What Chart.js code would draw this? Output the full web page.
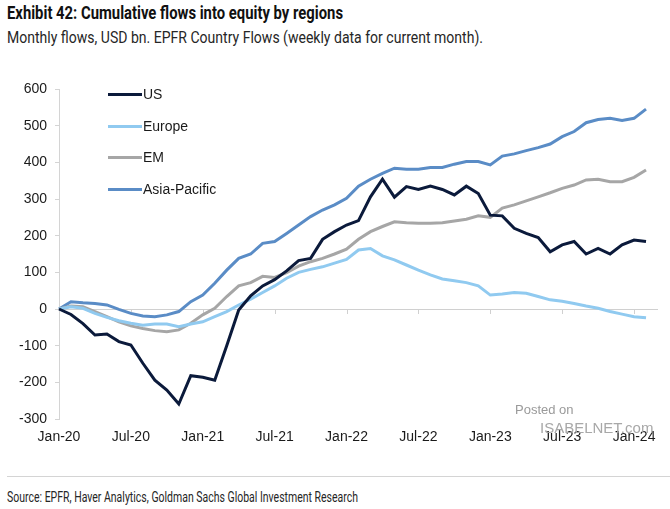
<!DOCTYPE html>
<html>
<head>
<meta charset="utf-8">
<script src="https://cdn.jsdelivr.net/npm/chart.js@4.4.0/dist/chart.umd.min.js"></script>
<style>
  body { margin: 0; background: #fff; }
  #page { position: relative; width: 670px; height: 509px; overflow: hidden; background: #fff; font-family: "Liberation Sans", Arial, sans-serif; }
  .fit { position: absolute; left: 7px; white-space: nowrap; transform-origin: left center; color: #1a1a1a; font-family: "Liberation Sans Narrow", "Roboto", "Liberation Sans", sans-serif; }
  #title { top: 2px; font-size: 19px; font-weight: bold; line-height: 22px; color: #111; }
  #subtitle { top: 27px; font-size: 17px; line-height: 20px; color: #262626; }
  #source { top: 488px; font-size: 15px; line-height: 18px; color: #262626; }
  #sep { position: absolute; left: 7px; right: 0; top: 476px; height: 1px; background: #d4d4d4; }
  #wrap { position: absolute; left: 0; top: 60px; width: 670px; height: 410px; }
  #legend { position: absolute; left: 108px; top: 85px; width: 200px; font-size: 14px; color: #1a1a1a; }
  .item { position: relative; height: 31.5px; line-height: 18px; white-space: nowrap; }
  .item span.ln { position: absolute; left: 0; top: 8px; width: 34px; height: 3px; }
  .item span.tx { position: absolute; left: 35px; top: 0; white-space: nowrap; }
  .wm { position: absolute; color: #9a9a9a; font-family: Arial, "Liberation Sans", sans-serif; white-space: nowrap; }
</style>
</head>
<body>
<div id="page">
  <div id="title" class="fit" data-w="336">Exhibit 42: Cumulative flows into equity by regions</div>
  <div id="subtitle" class="fit" data-w="476">Monthly flows, USD bn. EPFR Country Flows (weekly data for current month).</div>
  <div id="wrap"><canvas id="chart"></canvas></div>
  <div id="legend"></div>
  <div class="wm" style="left:515px; top:402px; font-size:13px;">Posted on</div>
  <div class="wm" style="left:540px; top:419px; font-size:15px; color:#a8a8a8;">ISABELNET.com</div>
  <div id="sep"></div>
  <div id="source" class="fit" data-w="351">Source: EPFR, Haver Analytics, Goldman Sachs Global Investment Research</div>
</div>
<script>
// Données (lecture du graphique, Md USD cumulés, mensuel Jan-20 -> Feb-24)
const moisNoms = ['Jan','Feb','Mar','Apr','May','Jun','Jul','Aug','Sep','Oct','Nov','Dec'];
const months = [];
for (let i = 0; i < 51; i++) {
    months.push(moisNoms[i % 12] + '-' + (20 + Math.floor(i / 12)));
}
const tickLabels = ['Jan-20','Jul-20','Jan-21','Jul-21','Jan-22','Jul-22','Jan-23','Jul-23','Jan-24'];

const us = [0,-15,-40,-71,-68,-89,-98,-148,-194,-221,-259,-182,-186,-194,-100,-3,36,63,80,104,132,138,190,211,229,241,306,354,305,334,326,335,326,311,335,315,256,254,220,206,195,156,175,184,150,165,150,175,188,184];
const europe = [0,6,2,-12,-23,-32,-39,-44,-41,-41,-48,-41,-35,-21,-7,11,27,45,63,84,100,108,115,125,135,161,165,145,134,120,106,93,82,77,72,63,38,41,45,43,34,25,21,15,8,2,-7,-14,-21,-24];
const em = [0,8,6,-7,-21,-35,-46,-53,-59,-62,-57,-39,-16,2,34,63,72,89,86,99,117,129,138,150,163,190,211,225,238,235,234,234,235,240,245,254,250,275,284,295,306,317,329,338,352,354,347,347,359,379];
const asia = [0,20,17,15,11,-1,-12,-19,-21,-16,-7,20,38,70,106,138,150,179,184,206,229,252,270,284,302,335,354,370,384,381,381,386,386,395,402,402,393,417,423,432,440,450,470,484,508,517,520,514,520,545];

const yTicks = { min: -300, max: 600, step: 100 };

const series = [
    { label: 'US', data: us, color: '#0b1a3b' },
    { label: 'Europe', data: europe, color: '#90caf0' },
    { label: 'EM', data: em, color: '#a6a6a6' },
    { label: 'Asia-Pacific', data: asia, color: '#5a8cc6' }
];

// ajustement largeur des textes
document.querySelectorAll('.fit').forEach((el) => {
    const w = el.getBoundingClientRect().width;
    el.style.transform = 'scaleX(' + (parseFloat(el.dataset.w) / w) + ')';
});

// légende
const legend = document.getElementById('legend');
series.forEach((s) => {
    const item = document.createElement('div');
    item.className = 'item';
    item.innerHTML = '<span class="ln" style="background:' + s.color + '"></span><span class="tx">' + s.label + '</span>';
    legend.appendChild(item);
});

// petites graduations sous la ligne zéro
const zeroTicks = {
    id: 'zeroTicks',
    beforeDatasetsDraw(chart) {
        const x = chart.scales.x, y = chart.scales.y;
        const y0 = y.getPixelForValue(0);
        const ctx = chart.ctx;
        ctx.save();
        ctx.strokeStyle = '#d0d0d0';
        ctx.lineWidth = 1;
        months.forEach((m, i) => {
            if (tickLabels.includes(m) && i > 0) {
                const px = Math.round(x.getPixelForValue(i)) + 0.5;
                ctx.beginPath();
                ctx.moveTo(px, y0);
                ctx.lineTo(px, y0 + 5);
                ctx.stroke();
            }
        });
        ctx.restore();
    }
};

const ctx = document.getElementById('chart').getContext('2d');
const graph = new Chart(ctx, {
    type: 'line',
    data: {
        labels: months,
        datasets: series.map((s) => ({
            label: s.label,
            data: s.data,
            borderColor: s.color,
            backgroundColor: s.color,
            borderWidth: 3,
            pointRadius: 0,
            tension: 0,
            fill: false
        }))
    },
    options: {
        responsive: true,
        maintainAspectRatio: false,
        animation: false,
        layout: { padding: { top: 29, right: 12, bottom: 0, left: 0 } },
        plugins: { legend: { display: false }, tooltip: { enabled: false } },
        scales: {
            x: {
                offset: false,
                border: { display: false },
                grid: { display: false, drawTicks: false },
                ticks: {
                    autoSkip: false,
                    maxRotation: 0,
                    padding: 10,
                    color: '#1a1a1a',
                    font: { family: 'Liberation Sans, Arial', size: 14 },
                    callback: function (val, idx) {
                        return tickLabels.includes(months[idx]) ? months[idx] : null;
                    }
                },
                afterFit: function (scale) { scale.height = 51; }
            },
            y: {
                min: yTicks.min,
                max: yTicks.max,
                border: { display: true, color: '#d4d4d4', width: 1 },
                grid: {
                    drawTicks: true,
                    tickLength: 4,
                    tickColor: '#d4d4d4',
                    color: (c) => (c.tick && c.tick.value === 0 ? '#d0d0d0' : 'rgba(0,0,0,0)')
                },
                ticks: {
                    stepSize: yTicks.step,
                    padding: 8,
                    color: '#1a1a1a',
                    font: { family: 'Liberation Sans, Arial', size: 14 }
                },
                afterFit: function (scale) { scale.width = 59; }
            }
        }
    },
    plugins: [zeroTicks]
});
</script>
</body>
</html>
